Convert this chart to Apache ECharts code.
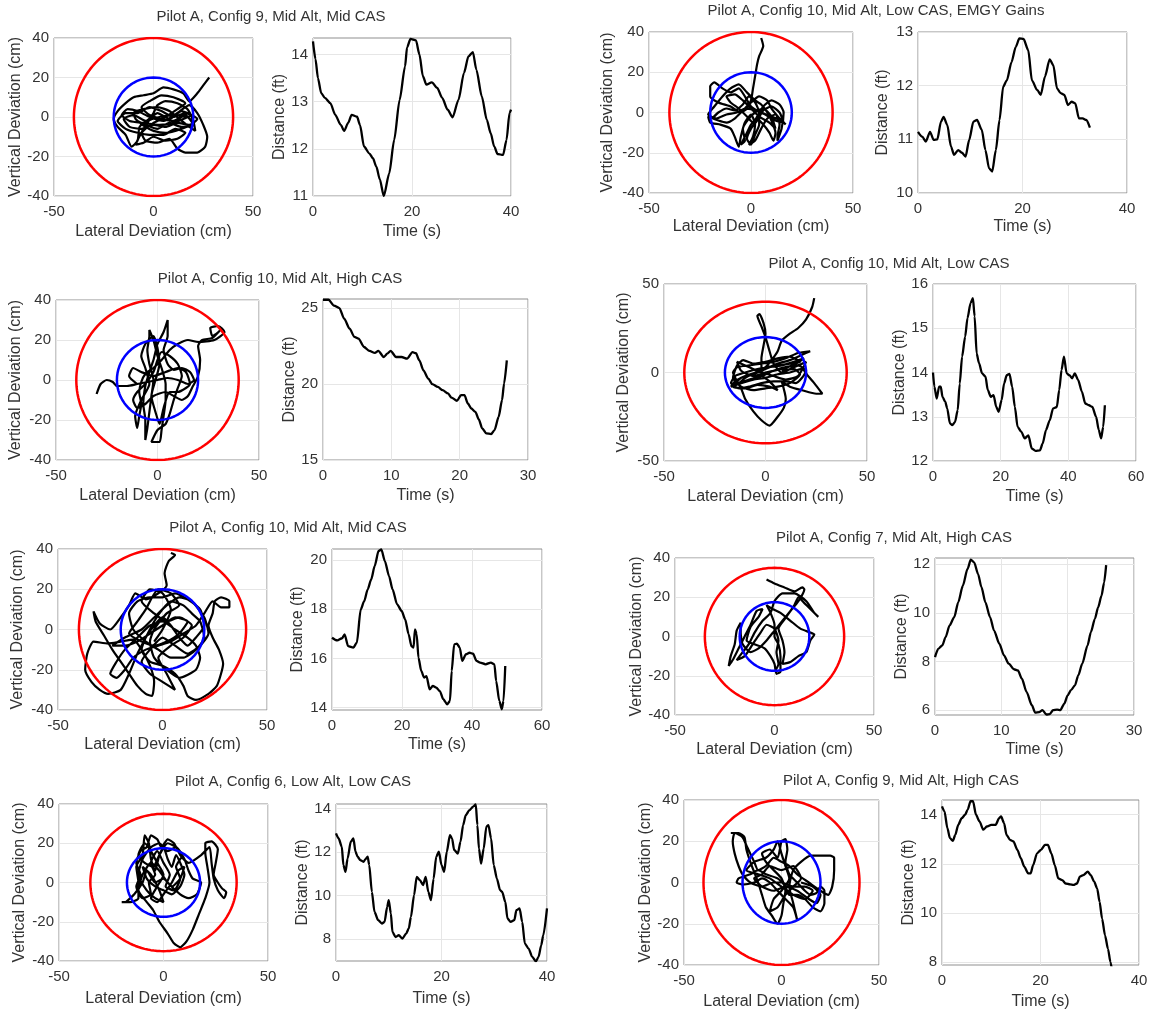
<!DOCTYPE html>
<html>
<head>
<meta charset="utf-8">
<script src="https://cdn.jsdelivr.net/npm/echarts@6/dist/echarts.min.js"></script>
<style>html,body{margin:0;padding:0;background:#fff}#chart{width:1151px;height:1012px}</style>
</head>
<body>
<div id="chart"></div>
<script>
// ---------------- DATA ----------------
const panelTitles = [
  'Pilot A, Config 9, Mid Alt, Mid CAS',
  'Pilot A, Config 10, Mid Alt, Low CAS, EMGY Gains',
  'Pilot A, Config 10, Mid Alt, High CAS',
  'Pilot A, Config 10, Mid Alt, Low CAS',
  'Pilot A, Config 10, Mid Alt, Mid CAS',
  'Pilot A, Config 7, Mid Alt, High CAS',
  'Pilot A, Config 6, Low Alt, Low CAS',
  'Pilot A, Config 9, Mid Alt, High CAS'
];
// [outer (red) radius, inner (blue) radius] in cm
const ringRadii = [[40,20],[40,20],[40,20],[40,20],[40,20],[35,17.5],[35,17.5],[40,20]];

const latTicks = [-50, 0, 50];
const vertTicks = [[-40,-20,0,20,40],[-40,-20,0,20,40],[-40,-20,0,20,40],[-50,0,50],[-40,-20,0,20,40],[-40,-20,0,20,40],[-40,-20,0,20,40],[-40,-20,0,20,40]];
const vertRanges = [[-40,40],[-40,40],[-40,40],[-50,50],[-40,40],[-40,40],[-40,40],[-40,40]];
const timeTicks = [[0,20,40],[0,20,40],[0,10,20,30],[0,20,40,60],[0,20,40,60],[0,10,20,30],[0,20,40],[0,20,40]];
const timeRanges = [[0,40],[0,40],[0,30],[0,60],[0,60],[0,30],[0,40],[0,40]];
const distTicks = [[11,12,13,14],[10,11,12,13],[15,20,25],[12,13,14,15,16],[14,16,18,20],[6,8,10,12],[8,10,12,14],[8,10,12,14]];
const distRanges = [[11,14.35],[10,13],[15,25.6],[12,16],[13.9,20.45],[5.8,12.25],[7,14.2],[7.88,14.6]];

// lateral / vertical deviation trajectories (cm)
const traj1 = [[28,20],[25,16],[22,12],[18,8],[15,12],[10,14],[5,15],[0,12],[-5,11],[-10,10],[-14,7],[-18,3],[-20,-1],[-18,-5],[-14,-9],[-11,-15],[-8,-12],[-7,-5],[-3,-2],[3,0],[10,1],[17,0],[20,-3],[14,-6],[6,-8],[0,-7],[-4,-5],[-9,-1],[-10,2],[-5,4],[2,5],[8,3],[13,-1],[18,-5],[21,-7],[20,-2],[17,4],[12,7],[6,8],[2,6],[0,2],[-3,-3],[-6,-8],[-4,-12],[2,-13],[8,-11],[12,-16],[16,-18],[22,-18],[26,-15],[27,-10],[25,-4],[22,2],[18,6],[12,2],[5,-2],[-2,0],[-8,3],[-13,4],[-16,1],[-12,-2],[-5,-3],[3,-4],[10,-3],[15,-1],[19,1],[14,3],[8,-1],[2,2],[-4,-2],[-10,1],[-15,-1],[-12,-5],[-6,-6],[0,-4],[6,-5],[12,-3],[18,-4],[22,-1],[16,2],[10,0],[4,3],[-2,5],[-8,2],[-14,2],[-18,-2],[-14,-6],[-8,-8],[-2,-9],[5,-9],[11,-6],[16,-8],[12,-11],[6,-12],[0,-10],[-5,-13],[-9,-14],[-6,-8],[0,-3],[6,0],[12,4],[16,7],[10,10],[4,11],[-2,8],[-6,5],[-2,1],[4,-1],[10,-2],[16,1],[20,-4],[14,-5],[8,-3],[2,-6],[-4,-4],[-8,-2]];
const traj2 = [[5,37],[6,33],[4,28],[3,24],[2,18],[1,12],[0,6],[-2,2],[-5,0],[-10,3],[-16,5],[-20,8],[-20,13],[-18,15],[-14,12],[-10,10],[-6,12],[-3,8],[0,3],[5,0],[10,-2],[15,-4],[17,-6],[14,-3],[10,2],[8,6],[4,8],[0,5],[-4,1],[-8,-3],[-12,-5],[-16,-4],[-21,-2],[-20,-5],[-15,-6],[-10,-8],[-8,-12],[-6,-17],[-5,-12],[-3,-5],[0,-1],[2,-6],[1,-12],[-1,-16],[2,-14],[5,-8],[8,-3],[12,-1],[14,-6],[13,-12],[13,-14],[15,-8],[16,0],[14,4],[10,6],[6,3],[3,-2],[1,-5],[-2,-2],[-6,2],[-10,5],[-12,8],[-8,9],[-4,6],[0,2],[4,-2],[9,-5],[12,-8],[10,-2],[6,2],[2,0],[-1,-3],[-4,-8],[-3,-14],[-5,-16],[-2,-10],[0,-6],[3,-3],[6,-6],[9,-10],[11,-14],[12,-10],[10,-4],[8,0],[5,4],[2,6],[-2,10],[-6,14],[-10,12],[-14,8],[-18,3],[-21,-1],[-17,-3],[-12,-1],[-7,0],[-3,2],[2,1],[7,-1],[12,-4],[16,-5],[14,0],[10,3],[6,1],[3,-4],[0,-8],[-2,-13],[0,-16],[2,-11],[4,-6],[4,0],[2,5],[-1,8],[-4,4],[-8,1],[-12,2],[-16,0],[-19,-3]];
const traj3 = [[-30,-7],[-28,-2],[-25,0],[-22,-1],[-20,-3],[-15,-3],[-10,-2],[-5,-1],[0,0],[5,1],[10,0],[15,-2],[18,0],[16,4],[12,6],[8,5],[5,8],[3,15],[5,22],[5,30],[3,24],[0,18],[-2,10],[-4,4],[-6,-3],[-7,-12],[-6,-20],[-6,-30],[-5,-24],[-4,-16],[-3,-8],[-2,0],[-4,8],[-5,15],[-4,22],[-4,25],[-2,20],[0,12],[2,6],[4,-2],[4,-10],[3,-18],[2,-25],[1,-31],[-3,-31],[0,-25],[4,-22],[6,-17],[8,-10],[10,-4],[12,2],[10,8],[6,12],[2,14],[0,10],[-2,4],[-6,-2],[-10,-6],[-12,-10],[-10,-14],[-6,-12],[-2,-8],[4,-6],[8,-8],[12,-10],[15,-8],[17,-4],[20,2],[21,10],[20,17],[22,20],[27,21],[31,25],[32,26],[30,24],[27,22],[26,26],[30,27],[33,24],[28,20],[20,19],[15,20],[10,18],[6,15],[2,10],[-2,6],[-6,3],[-8,-1],[-9,-6],[-8,-12],[-9,-18],[-10,-24],[-11,-18],[-8,-10],[-4,-2],[-6,6],[-8,12],[-6,18],[-2,22],[0,16],[1,8],[-1,0],[-3,-8],[-1,-16],[1,-22],[3,-14],[6,-6],[10,-6],[14,-4],[16,-2],[14,4],[10,6],[4,4],[-2,2],[-8,4],[-12,6],[-14,2],[-10,-2]];
const traj4 = [[24,42],[23,37],[20,30],[16,25],[12,22],[8,18],[6,12],[3,7],[0,3],[-5,0],[-10,-2],[-15,-5],[-17,-8],[-12,-6],[-6,-4],[0,-3],[6,-1],[12,0],[18,2],[21,-2],[24,-6],[28,-12],[25,-12],[18,-10],[12,-8],[8,-5],[10,-15],[9,-20],[6,-25],[2,-30],[-2,-27],[-6,-22],[-10,-15],[-12,-9],[-14,-5],[-16,0],[-14,3],[-8,4],[-2,5],[4,6],[10,8],[16,11],[22,12],[18,10],[12,7],[6,5],[0,2],[-6,-1],[-12,-3],[-16,-8],[-10,-9],[-4,-7],[2,-8],[6,-10],[2,-5],[-2,-1],[-2,8],[-1,15],[0,22],[-1,28],[-3,33],[-4,32],[-2,26],[0,20],[2,12],[4,5],[8,0],[14,3],[20,6],[16,-2],[10,-4],[4,-2],[-4,1],[-10,4],[-14,6],[-12,1],[-6,-2],[0,0],[8,2],[15,5],[19,8],[14,6],[8,4],[2,3],[-4,2],[-10,0],[-15,-2],[-17,-6],[-13,-9],[-8,-8],[-2,-6],[4,-5],[10,-5],[15,-6],[18,-3],[20,1],[16,4],[10,3],[4,1],[-2,-2],[-8,-4],[-13,-6],[-10,-3],[-5,0],[0,3],[6,4],[12,5],[17,6],[12,9],[6,8],[0,6],[-6,5],[-11,7],[-14,4],[-16,-3],[-12,-8],[-6,-10],[0,-9],[6,-8],[12,-6],[17,-1],[14,2],[8,1]];
const traj5 = [[4,38],[6,37],[3,34],[1,28],[2,22],[-2,18],[-8,15],[-13,18],[-16,12],[-20,6],[-25,0],[-30,3],[-33,9],[-32,4],[-28,-3],[-24,-10],[-20,-16],[-16,-22],[-12,-28],[-8,-32],[-5,-33],[-4,-26],[-6,-18],[-10,-10],[-14,-5],[-20,-6],[-26,-7],[-33,-6],[-36,-12],[-37,-20],[-34,-26],[-30,-30],[-26,-32],[-20,-30],[-16,-22],[-12,-12],[-8,-4],[-4,4],[0,10],[4,14],[10,12],[14,8],[18,4],[20,-4],[16,-10],[10,-14],[4,-14],[-2,-10],[-8,-6],[-14,0],[-16,8],[-12,14],[-6,16],[0,16],[6,18],[12,15],[18,10],[20,2],[16,-4],[12,-8],[8,-4],[4,2],[0,6],[-4,2],[-8,-4],[-10,-10],[-6,-16],[0,-18],[6,-22],[10,-28],[12,-33],[16,-35],[22,-32],[26,-28],[28,-22],[29,-17],[27,-10],[24,-4],[22,2],[24,8],[25,14],[28,16],[32,14],[32,11],[28,11],[24,14],[20,8],[16,2],[10,-2],[4,-6],[-2,-8],[-8,-10],[-14,-14],[-18,-20],[-22,-24],[-25,-22],[-22,-16],[-18,-10],[-12,-4],[-6,2],[0,4],[6,0],[12,-4],[16,-8],[18,-14],[16,-20],[8,-24],[2,-20],[-4,-14],[-6,-6],[-4,0],[2,8],[8,12],[4,18],[-2,20],[-8,10],[-12,4],[-16,-2],[-10,-6],[-4,-8],[2,-6],[8,-2],[12,4],[6,6],[0,2],[-6,-2],[-12,-6],[-18,-8],[-24,-8],[-18,-4],[-10,0],[-4,6],[2,12],[8,16],[14,14],[20,6],[22,-2],[18,-8],[12,-12],[6,-8],[0,-4],[-6,-10],[-10,-16],[-6,-22],[0,-26],[6,-30],[2,-22],[-2,-14],[4,-8],[10,-4],[14,2],[8,6],[2,4],[-4,8],[-10,14],[-6,20],[0,18],[4,10],[0,0],[-4,-6]];
const traj6 = [[-4,29],[0,27],[5,25],[10,23],[14,25],[15,24],[12,18],[8,13],[4,8],[0,3],[-4,-2],[-8,-6],[-12,-8],[-16,-4],[-17,2],[-17,7],[-19,3],[-20,-4],[-22,-10],[-23,-15],[-21,-12],[-18,-6],[-15,0],[-12,6],[-9,13],[-6,14],[-8,10],[-12,5],[-14,-2],[-10,-4],[-5,-6],[-2,-10],[0,-14],[1,-19],[3,-18],[3,-10],[2,-4],[0,0],[0,6],[-2,12],[-4,16],[-1,14],[3,12],[8,8],[13,4],[18,2],[20,1],[18,-2],[16,-8],[12,-10],[8,-13],[4,-14],[5,-8],[4,-2],[2,4],[6,10],[10,16],[12,20],[15,17],[18,14],[22,10],[20,12],[16,18],[10,22],[4,22],[0,18],[-2,12],[-6,8],[-10,2],[-13,-4],[-16,-8],[-19,-12],[-15,-10],[-11,-4],[-7,2],[-4,6],[0,4],[2,-2],[1,-8],[2,-14],[0,-18]];
const traj7 = [[-20,-10],[-16,-10],[-12,-8],[-12,0],[-13,8],[-10,14],[-9,24],[-7,20],[-6,12],[-4,6],[-2,14],[0,18],[2,12],[4,8],[6,14],[8,10],[10,4],[8,-2],[4,-6],[0,-4],[-4,-2],[-8,2],[-10,8],[-6,4],[-2,-4],[0,-10],[-4,-8],[-8,-4],[-12,4],[-10,12],[-6,18],[-2,20],[2,16],[6,18],[10,12],[12,6],[14,2],[18,0],[16,-6],[12,-8],[8,-6],[2,0],[-2,6],[-6,10],[-10,4],[-12,-4],[-8,-10],[-5,-14],[-2,-20],[2,-26],[5,-31],[8,-33],[11,-30],[14,-24],[17,-16],[20,-8],[22,0],[21,8],[20,15],[20,20],[23,21],[26,17],[25,10],[24,4],[26,0],[28,-3],[30,-5],[29,-8],[26,-4],[24,2],[23,10],[22,18],[18,14],[12,10],[8,14],[5,20],[2,22],[-1,18],[-3,22],[-6,24],[-8,18],[-11,16],[-13,10],[-11,4],[-13,-2],[-10,-8],[-6,-6],[-7,0],[-4,4],[-6,10],[-3,16],[0,10],[3,4],[1,-2],[5,-4],[8,2],[6,8],[9,14],[6,18],[2,20],[-2,14],[-5,8],[-9,10],[-12,14],[-9,20],[-6,16],[-3,10],[0,4],[-3,-2],[-6,-8],[-3,-10],[0,-6],[4,0],[7,6],[10,8],[8,2],[4,-2],[0,2],[-4,0],[-8,6],[-10,0],[-14,-6],[-18,-10]];
const traj8 = [[-26,24],[-22,24],[-19,22],[-18,16],[-16,10],[-14,5],[-12,0],[-10,-6],[-8,-12],[-5,-16],[-2,-20],[0,-16],[1,-10],[2,-4],[0,2],[-4,6],[-8,10],[-10,14],[-6,16],[-2,12],[0,20],[2,21],[3,16],[2,10],[4,4],[8,0],[12,-4],[15,-6],[18,-5],[20,-2],[22,-4],[22,-10],[20,-14],[16,-12],[12,-8],[8,-6],[4,-6],[2,-2],[-2,2],[-8,4],[-12,6],[-16,4],[-22,2],[-23,0],[-20,-1],[-14,0],[-10,2],[-6,0],[-2,-4],[2,-8],[6,-12],[8,-18],[6,-10],[4,-2],[6,6],[10,10],[15,13],[20,13],[25,13],[27,12],[27,6],[26,-2],[24,-6],[20,-4],[14,0],[8,4],[4,8],[0,10],[-4,12],[-8,8],[-12,6],[-14,10],[-16,14],[-18,18],[-20,22],[-24,24],[-25,20],[-24,14],[-22,8],[-20,4],[-16,0],[-10,-2],[-4,0],[0,0],[6,-2],[12,-2],[16,-4],[12,-8],[6,-6],[0,-2],[-6,2],[-12,4],[-18,6],[-14,10],[-8,12],[-4,16],[-2,20],[0,14],[2,8],[4,2],[0,-4],[-4,-8],[-6,-14],[-2,-12],[2,-6],[6,-2],[10,2],[6,8],[0,6],[-6,8],[-10,4],[-14,2],[-10,-2],[-4,-4],[2,-2],[8,-4],[14,-8],[18,-10],[20,-6],[16,-2],[10,0]];

// distance vs time ([s, ft])
const dist1 = [[0,14.28],[0.5,13.9],[1.0,13.5],[1.66,13.18],[2.4,13.08],[3.5,12.97],[4.5,12.72],[5.6,12.51],[6.3,12.38],[7.1,12.55],[7.8,12.72],[8.9,12.68],[9.5,12.5],[10.3,12.05],[11.4,11.9],[12.1,11.8],[12.8,11.62],[13.5,11.35],[14.3,11.0],[15.4,11.48],[16.4,12.19],[17.5,13.04],[18.6,13.75],[19.0,14.15],[19.7,14.33],[20.8,14.3],[21.5,14.0],[22.2,13.54],[22.9,13.36],[24.0,13.41],[25.1,13.29],[26.1,13.08],[27.2,12.83],[28.2,12.67],[29.4,13.04],[30.5,13.61],[31.4,13.96],[32.3,14.05],[33.0,13.68],[34.1,13.11],[35.1,12.62],[35.9,12.33],[36.6,12.05],[37.3,11.89],[38.4,11.87],[39.1,12.19],[39.7,12.76],[40,12.83]];
const dist2 = [[0,11.14],[0.8,11.05],[1.5,10.96],[2.3,11.14],[3.0,10.99],[3.7,11.0],[4.4,11.33],[4.9,11.42],[5.6,11.27],[6.3,10.87],[6.9,10.71],[7.7,10.8],[8.4,10.75],[9.1,10.68],[9.8,10.99],[10.6,11.33],[11.3,11.36],[12.2,11.18],[12.9,10.8],[13.6,10.46],[14.2,10.4],[14.9,10.8],[15.6,11.36],[16.3,11.98],[17.0,12.1],[17.9,12.44],[18.7,12.72],[19.4,12.88],[20.2,12.87],[21.1,12.66],[21.8,12.1],[22.8,11.92],[23.5,11.83],[24.3,12.17],[25.2,12.49],[25.9,12.38],[26.6,11.95],[27.3,11.86],[28.0,11.83],[28.7,11.64],[29.4,11.7],[30.1,11.67],[30.8,11.39],[31.5,11.39],[32.2,11.36],[32.9,11.22]];
const dist3 = [[0,25.55],[0.8,25.55],[1.6,25.17],[2.4,25.0],[3.1,24.3],[3.9,23.64],[4.6,23.1],[5.2,22.99],[6.0,22.44],[6.8,22.18],[7.6,22.05],[8.1,22.18],[8.9,21.78],[9.4,22.0],[9.9,22.18],[10.7,21.78],[11.5,21.78],[12.3,21.67],[13.1,22.1],[13.6,22.03],[14.1,21.56],[14.7,20.9],[15.4,20.36],[16.0,19.99],[16.8,19.81],[17.5,19.6],[18.3,19.38],[18.8,19.11],[19.6,18.9],[20.2,19.27],[20.7,19.27],[21.2,18.72],[21.7,18.39],[22.3,18.17],[22.8,17.67],[23.3,17.08],[23.9,16.75],[24.6,16.71],[25.1,16.97],[25.7,17.84],[26.2,18.94],[26.5,20.03],[26.9,21.56]];
const dist4 = [[0,14.0],[0.4,13.68],[1.1,13.41],[1.8,13.68],[2.3,13.68],[2.8,13.45],[3.6,13.34],[4.2,13.19],[5.0,12.85],[5.7,12.81],[6.5,12.88],[7.3,13.15],[7.9,13.75],[8.6,14.36],[9.5,14.81],[10.2,15.23],[11.1,15.57],[11.8,15.68],[12.3,15.27],[12.9,14.43],[13.6,14.21],[14.5,13.98],[15.5,13.91],[16.2,13.6],[17.1,13.45],[17.9,13.49],[18.7,13.22],[19.4,13.11],[20.3,13.38],[21.0,13.75],[21.8,13.94],[22.6,13.97],[23.4,13.68],[24.2,13.22],[25.0,12.77],[26.1,12.66],[27.1,12.51],[28.2,12.58],[29.2,12.28],[30.3,12.23],[31.6,12.24],[32.4,12.39],[33.4,12.7],[34.5,12.92],[35.5,13.19],[36.6,13.22],[37.3,13.6],[38.0,14.06],[38.7,14.36],[39.5,13.98],[40.3,13.94],[41.1,13.87],[41.9,13.98],[42.9,13.83],[44.0,13.57],[45.0,13.3],[46.1,13.26],[47.1,13.22],[48.2,13.0],[49.0,12.7],[49.7,12.51],[50.3,12.77],[50.8,13.26]];
const dist5 = [[0,16.84],[1.5,16.73],[2.9,16.82],[3.6,16.98],[4.6,16.5],[6.1,16.44],[7.1,16.64],[8.2,17.99],[9.2,18.33],[10.2,18.81],[11.2,19.21],[12.2,19.76],[13.3,20.37],[14.1,20.43],[15.1,19.96],[16.3,19.35],[17.3,18.81],[18.6,18.2],[19.9,17.93],[20.9,17.59],[21.9,16.98],[22.7,16.5],[23.3,16.44],[23.7,17.18],[24.2,16.98],[24.7,16.03],[25.5,15.49],[26.3,15.22],[27.0,15.28],[27.9,14.74],[28.8,14.88],[29.8,14.81],[30.8,14.67],[31.8,14.34],[32.9,14.13],[33.7,14.27],[34.2,15.49],[34.9,16.57],[35.7,16.6],[36.5,16.44],[37.2,15.9],[38.3,16.17],[39.3,16.23],[40.3,16.19],[41.3,15.9],[42.3,15.83],[43.9,15.76],[45.4,15.83],[46.4,15.76],[46.9,15.08],[47.8,14.27],[48.5,13.93],[49.0,14.27],[49.5,15.69]];
const dist6 = [[0,8.18],[0.5,8.52],[1.1,8.66],[1.6,9.0],[2.2,9.48],[2.9,9.82],[3.5,10.43],[4.2,11.11],[4.9,11.8],[5.4,12.18],[5.9,12.07],[6.5,11.59],[7.0,11.05],[7.6,10.43],[8.3,9.82],[8.9,9.27],[9.7,8.73],[10.4,8.25],[11.1,7.91],[11.9,7.68],[12.5,7.63],[13.1,7.29],[13.8,6.75],[14.6,6.2],[15.1,5.9],[15.7,5.92],[16.2,6.0],[16.8,5.82],[17.3,5.84],[17.8,6.0],[18.4,6.02],[18.9,6.0],[19.5,6.27],[20.0,6.61],[20.5,6.82],[21.1,7.02],[21.6,7.43],[22.2,7.91],[23.0,8.66],[23.5,9.2],[24.1,9.75],[24.6,10.23],[25.1,10.7],[25.5,11.25],[25.8,11.96]];
const dist7 = [[0,12.85],[0.5,12.62],[1.1,12.24],[1.4,11.4],[1.8,11.09],[2.2,11.7],[2.8,12.47],[3.3,12.62],[3.7,12.01],[4.1,11.78],[4.6,11.63],[5.2,11.55],[5.6,11.67],[6.0,11.78],[6.3,11.4],[6.8,10.17],[7.3,9.25],[8.0,8.87],[8.7,8.72],[9.2,8.79],[9.7,9.48],[10.0,9.79],[10.4,9.18],[10.7,8.33],[11.3,8.1],[11.9,8.18],[12.6,8.03],[13.3,8.26],[13.8,8.49],[14.2,9.02],[14.8,10.02],[15.3,10.86],[15.9,10.71],[16.5,10.48],[17.0,10.86],[17.5,10.17],[18.0,9.79],[18.5,10.78],[19.0,11.78],[19.5,12.01],[20.0,11.4],[20.5,11.09],[21.0,12.01],[21.6,12.77],[22.0,12.62],[22.4,12.09],[23.1,11.93],[23.6,12.47],[24.1,13.23],[24.6,13.69],[25.3,13.92],[26.0,14.08],[26.5,14.18],[26.8,13.23],[27.1,12.16],[27.5,11.47],[28.0,12.16],[28.5,13.16],[28.9,13.23],[29.4,12.62],[29.9,11.4],[30.5,10.78],[31.1,10.25],[31.5,10.17],[32.1,9.71],[32.5,8.95],[33.1,8.79],[33.8,8.87],[34.2,9.33],[34.8,9.41],[35.3,8.79],[35.8,7.8],[36.5,7.57],[37.2,7.19],[37.9,6.98],[38.4,7.19],[38.9,7.72],[39.3,8.18],[40,9.41]];
const dist8 = [[0,14.34],[0.5,14.14],[1.1,13.45],[1.6,13.05],[2.2,12.94],[2.7,13.18],[3.3,13.59],[4.0,13.86],[4.7,14.0],[5.2,14.2],[5.8,14.55],[6.3,14.55],[6.9,14.0],[7.6,13.73],[8.4,13.39],[9.1,13.52],[10.0,13.59],[10.9,13.59],[11.6,13.86],[12.0,13.93],[12.6,13.66],[13.1,13.18],[13.8,12.98],[14.5,12.91],[15.3,12.57],[16.0,12.23],[16.7,11.89],[17.5,11.61],[18.0,11.61],[18.5,11.95],[19.3,12.43],[20.1,12.57],[20.9,12.77],[21.5,12.77],[22.2,12.43],[22.9,11.95],[23.6,11.41],[24.4,11.34],[25.1,11.2],[26.0,11.16],[26.7,11.14],[27.4,11.2],[28.0,11.48],[28.7,11.54],[29.6,11.68],[30.2,11.54],[30.9,11.27],[31.5,11.0],[32.0,10.45],[32.5,9.77],[33.1,9.09],[33.7,8.54],[34.2,8.0],[34.5,7.7]];

const trajectories = [traj1, traj2, traj3, traj4, traj5, traj6, traj7, traj8];
const distances = [dist1, dist2, dist3, dist4, dist5, dist6, dist7, dist8];

// ---------------- LAYOUT (pixels) ----------------
// c: circle plot [left, top, right, bottom]; t: time plot; title: [centerX, centerY]; g: name gaps [cY, cX, tY, tX]
const layout = [
  {c:[54,38,253,196],  t:[313,38,511,196],   title:[271,18],  g:[29,28,25,28]},
  {c:[649,32,853,193], t:[918,32,1127,193],  title:[876,12],  g:[33,26,27,26]},
  {c:[56,300,259,460], t:[323,299,528,460],  title:[280,280], g:[32,28,24,28]},
  {c:[664,284,867,461],t:[933,284,1136,461], title:[889,265], g:[32,28,25,28]},
  {c:[58,549,267,710], t:[332,549,542,710],  title:[288,529], g:[32,27,26,27]},
  {c:[675,558,874,715],t:[935,558,1134,715], title:[894,539], g:[29,27,22,27]},
  {c:[59,804,268,961], t:[336,804,547,961],  title:[293,783], g:[31,30,25,30]},
  {c:[684,800,879,965],t:[942,800,1139,965], title:[901,782], g:[29,29,20,29]}
];

const FONT = '"Liberation Sans", Arial, Helvetica, sans-serif';
const TXT = '#333333';

function ring(r) {
  const pts = [];
  for (let k = 0; k <= 144; k++) {
    const a = k / 144 * 2 * Math.PI;
    pts.push([r * Math.cos(a), r * Math.sin(a)]);
  }
  return pts;
}

function gridOf(rect) {
  return {left: rect[0], top: rect[1], width: rect[2] - rect[0], height: rect[3] - rect[1],
          show: true, borderColor: '#8f8f8f', borderWidth: 1, backgroundColor: 'transparent'};
}

function valueAxis(gi, min, max, ticks, name, gap) {
  return {
    type: 'value', gridIndex: gi, min: min, max: max,
    name: name, nameLocation: 'middle', nameGap: gap,
    nameTextStyle: {fontSize: 16, color: TXT, fontFamily: FONT},
    axisLine: {show: false, onZero: false},
    axisTick: {show: false, customValues: ticks},
    axisLabel: {customValues: ticks, fontSize: 15, color: TXT, fontFamily: FONT, margin: 6},
    splitLine: {show: true, lineStyle: {color: '#e6e6e6', width: 1}}
  };
}

const grids = [], xAxes = [], yAxes = [], series = [], titles = [];
for (let i = 0; i < 8; i++) {
  const L = layout[i];
  const gc = 2 * i, gt = 2 * i + 1;
  grids.push(gridOf(L.c), gridOf(L.t));
  xAxes.push(valueAxis(gc, -50, 50, latTicks, 'Lateral Deviation (cm)', L.g[1]));
  yAxes.push(valueAxis(gc, vertRanges[i][0], vertRanges[i][1], vertTicks[i], 'Vertical Deviation (cm)', L.g[0]));
  xAxes.push(valueAxis(gt, timeRanges[i][0], timeRanges[i][1], timeTicks[i], 'Time (s)', L.g[3]));
  yAxes.push(valueAxis(gt, distRanges[i][0], distRanges[i][1], distTicks[i], 'Distance (ft)', L.g[2]));
  xAxes[gc].axisLabel.margin = 8; xAxes[gt].axisLabel.margin = 8;
  yAxes[gc].axisLabel.margin = 5; yAxes[gt].axisLabel.margin = 5;

  series.push({type: 'line', xAxisIndex: gc, yAxisIndex: gc, data: trajectories[i], symbol: 'none',
               smooth: 0.2, lineStyle: {color: '#000', width: 2.2}, z: 2});
  series.push({type: 'line', xAxisIndex: gc, yAxisIndex: gc, data: ring(ringRadii[i][0]), symbol: 'none',
               lineStyle: {color: '#ff0000', width: 2.5}, z: 3});
  series.push({type: 'line', xAxisIndex: gc, yAxisIndex: gc, data: ring(ringRadii[i][1]), symbol: 'none',
               lineStyle: {color: '#0000ff', width: 2.5}, z: 3});
  series.push({type: 'line', xAxisIndex: gt, yAxisIndex: gt, data: distances[i], symbol: 'none',
               smooth: 0.25, smoothMonotone: 'x', lineStyle: {color: '#000', width: 2.3}, z: 2});

  titles.push({text: panelTitles[i], left: L.title[0], top: L.title[1] - 9, textAlign: 'center', padding: 0,
               textStyle: {fontSize: 15, fontWeight: 'normal', color: TXT, fontFamily: FONT}});
}

const chart = echarts.init(document.getElementById('chart'), null, {renderer: 'canvas'});
chart.setOption({
  animation: false,
  backgroundColor: '#ffffff',
  title: titles,
  grid: grids,
  xAxis: xAxes,
  yAxis: yAxes,
  series: series
});
</script>
</body>
</html>
